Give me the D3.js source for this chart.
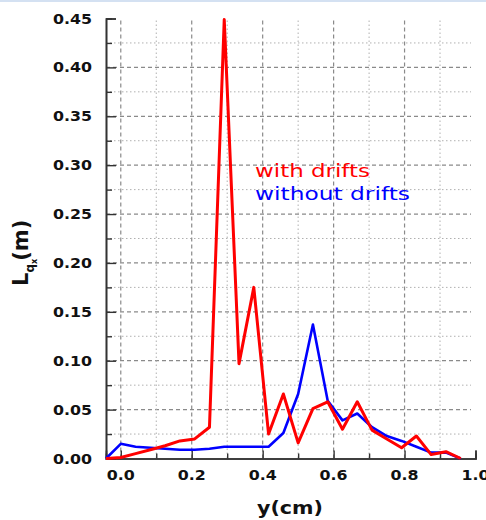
<!DOCTYPE html>
<html>
<head>
<meta charset="utf-8">
<script src="https://cdn.jsdelivr.net/npm/d3@7/dist/d3.min.js"></script>
<style>
  html, body { margin: 0; padding: 0; background: #fff; }
  svg { display: block; }
</style>
</head>
<body>
<div id="chart"></div>
<script>
// Sample positions across the channel (cm), every 1/24 cm
const yPositions = d3.range(-1, 24).map(i => i / 24);

// Correlation length L_qx (m) with drifts
const withDrifts = [
  0.000, 0.001, 0.005, 0.009, 0.013, 0.018, 0.020, 0.032, 0.449,
  0.097, 0.175, 0.025, 0.066, 0.016, 0.051, 0.058, 0.030, 0.058,
  0.029, 0.020, 0.011, 0.023, 0.004, 0.007, 0.000
];

// Correlation length L_qx (m) without drifts
const withoutDrifts = [
  0.000, 0.015, 0.012, 0.011, 0.010, 0.009, 0.009, 0.010, 0.012,
  0.012, 0.012, 0.012, 0.026, 0.066, 0.137, 0.059, 0.039, 0.046,
  0.032, 0.023, 0.018, 0.012, 0.006, 0.006, 0.000
];

const xMajorTicks = [0.0, 0.2, 0.4, 0.6, 0.8, 1.0];
const xMinorTicks = [0.1, 0.3, 0.5, 0.7, 0.9];
const yMajorTicks = [0.00, 0.05, 0.10, 0.15, 0.20, 0.25, 0.30, 0.35, 0.40, 0.45];
const yMinorTicks = [0.025, 0.075, 0.125, 0.175, 0.225, 0.275, 0.325, 0.375, 0.425];

const seriesNames = ["with drifts", "without drifts"];
const seriesColors = ["#ff0000", "#0000ff"];

const W = 486, H = 520;
const plotLeft = 106, plotRight = 475.5, plotTop = 18.5, plotBottom = 458.5;

const svg = d3.select("#chart").append("svg")
  .attr("width", W).attr("height", H);

// thin frame line along the top edge
svg.append("line")
  .attr("x1", 0).attr("x2", W).attr("y1", 1).attr("y2", 1)
  .attr("stroke", "#a9c3e6").attr("stroke-width", 1.2);

const x = d3.scaleLinear().domain([-1 / 24, 1.0]).range([plotLeft, plotRight]);
const y = d3.scaleLinear().domain([0, 0.45]).range([plotBottom, plotTop]);

// grid
const grid = svg.append("g");
const gridRight = 471;
yMajorTicks.filter(v => v > 0 && v < 0.45).forEach(v => {
  grid.append("line")
    .attr("x1", plotLeft).attr("x2", gridRight)
    .attr("y1", y(v)).attr("y2", y(v))
    .attr("stroke", "#8a8a8a").attr("stroke-width", 1.2)
    .attr("stroke-dasharray", "4,3");
});
yMinorTicks.forEach(v => {
  grid.append("line")
    .attr("x1", plotLeft).attr("x2", gridRight)
    .attr("y1", y(v)).attr("y2", y(v))
    .attr("stroke", "#b0b0b0").attr("stroke-width", 1)
    .attr("stroke-dasharray", "1.5,2.5");
});
xMajorTicks.filter(v => v < 1.0).forEach(v => {
  grid.append("line")
    .attr("x1", x(v)).attr("x2", x(v))
    .attr("y1", plotTop + 2).attr("y2", plotBottom)
    .attr("stroke", "#8a8a8a").attr("stroke-width", 1.2)
    .attr("stroke-dasharray", "4,3");
});
xMinorTicks.forEach(v => {
  grid.append("line")
    .attr("x1", x(v)).attr("x2", x(v))
    .attr("y1", plotTop + 2).attr("y2", plotBottom)
    .attr("stroke", "#b0b0b0").attr("stroke-width", 1)
    .attr("stroke-dasharray", "1.5,2.5");
});

// axes with inward ticks
const axisColor = "#333";
const xAxis = d3.axisTop(x).tickValues(xMajorTicks).tickSize(8).tickFormat("");
const xAxisMinor = d3.axisTop(x).tickValues(xMinorTicks).tickSize(5).tickFormat("");
const yAxis = d3.axisRight(y).tickValues(yMajorTicks).tickSize(10).tickFormat("");
const yAxisMinor = d3.axisRight(y).tickValues(yMinorTicks).tickSize(6).tickFormat("");

[[xAxis, `translate(0,${plotBottom})`], [xAxisMinor, `translate(0,${plotBottom})`],
 [yAxis, `translate(${plotLeft},0)`], [yAxisMinor, `translate(${plotLeft},0)`]].forEach(([ax, tr]) => {
  const g = svg.append("g").attr("transform", tr).call(ax);
  g.select(".domain").attr("stroke", axisColor).attr("stroke-width", 1.6);
  g.selectAll(".tick line").attr("stroke", axisColor).attr("stroke-width", 1.4);
});

// tick labels
const labelFont = "DejaVu Sans, Verdana, sans-serif";
yMajorTicks.forEach(v => {
  svg.append("text")
    .attr("x", 92).attr("y", y(v) + 5)
    .attr("text-anchor", "end")
    .attr("font-family", labelFont).attr("font-weight", "bold")
    .attr("font-size", 13.5).attr("fill", "#111")
    .attr("textLength", 39).attr("lengthAdjust", "spacingAndGlyphs")
    .text(v.toFixed(2));
});
xMajorTicks.forEach(v => {
  svg.append("text")
    .attr("x", x(v) - 14).attr("y", 480)
    .attr("font-family", labelFont).attr("font-weight", "bold")
    .attr("font-size", 13.5).attr("fill", "#111")
    .attr("textLength", 28).attr("lengthAdjust", "spacingAndGlyphs")
    .text(v.toFixed(1));
});

// axis titles
svg.append("text")
  .attr("x", 257).attr("y", 514)
  .attr("font-family", labelFont).attr("font-weight", "bold")
  .attr("font-size", 18).attr("fill", "#111")
  .attr("textLength", 66).attr("lengthAdjust", "spacingAndGlyphs")
  .text("y(cm)");

const yTitle = svg.append("text")
  .attr("transform", "translate(28,286) rotate(-90)")
  .attr("font-family", labelFont).attr("font-weight", "bold")
  .attr("fill", "#111");
yTitle.append("tspan").attr("font-size", 21).text("L");
yTitle.append("tspan").attr("font-size", 12).attr("dy", 6).text("q");
yTitle.append("tspan").attr("font-size", 8).attr("dy", 3).text("x");
yTitle.append("tspan").attr("font-size", 21).attr("dy", -9).attr("dx", -2).text("(m)");

// data lines
const pts = vals => vals.map((v, i) => [yPositions[i], v]);
const line = d3.line().x(d => x(d[0])).y(d => y(d[1]));

svg.append("path")
  .attr("d", line(pts(withoutDrifts)))
  .attr("fill", "none").attr("stroke", seriesColors[1])
  .attr("stroke-width", 2.6).attr("stroke-linejoin", "round");

svg.append("path")
  .attr("d", line(pts(withDrifts)))
  .attr("fill", "none").attr("stroke", seriesColors[0])
  .attr("stroke-width", 3).attr("stroke-linejoin", "round");

// legend
seriesNames.forEach((name, i) => {
  svg.append("text")
    .attr("x", 255).attr("y", 177 + i * 23)
    .attr("font-family", labelFont)
    .attr("font-size", 18).attr("fill", seriesColors[i])
    .attr("textLength", i === 0 ? 115 : 155).attr("lengthAdjust", "spacingAndGlyphs")
    .text(name);
});
</script>
</body>
</html>
